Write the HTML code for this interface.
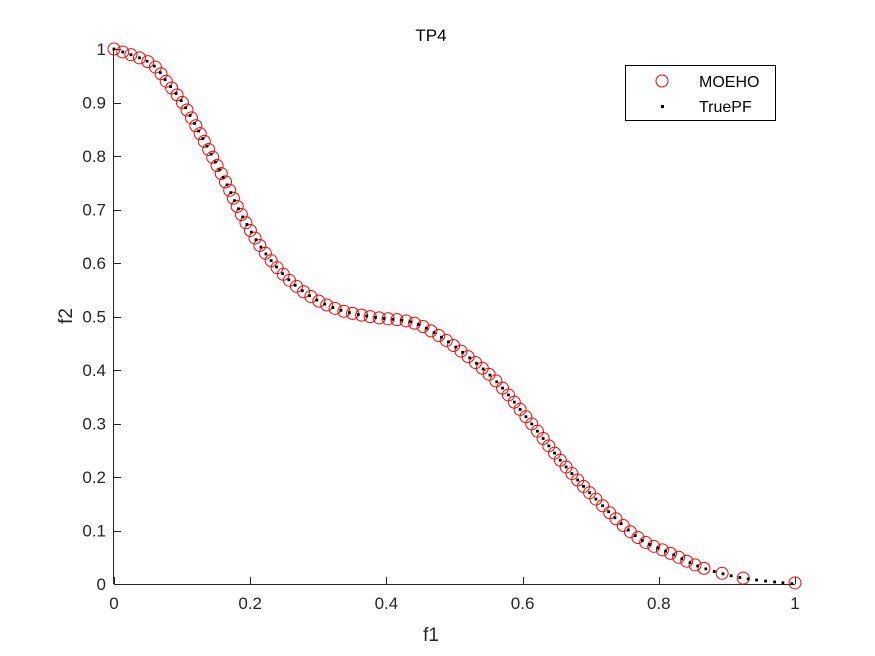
<!DOCTYPE html>
<html><head><meta charset="utf-8"><style>
html,body{margin:0;padding:0;background:#fff;}
svg{display:block;font-family:"Liberation Sans",sans-serif;}
</style></head><body>
<svg id="s" width="875" height="656" viewBox="0 0 875 656" xmlns="http://www.w3.org/2000/svg">
<rect width="875" height="656" fill="#fff"/>
<g id="ax" stroke="#262626" stroke-width="1" fill="none">
<line x1="114" y1="584.5" x2="795" y2="584.5"/>
<line x1="113.5" y1="49" x2="113.5" y2="584"/>
</g>
<g id="ticks" stroke="#262626" stroke-width="1"></g>
<g id="lbl" fill="#262626" font-size="17"></g>
<text x="431" y="41" text-anchor="middle" font-size="17" fill="#000">TP4</text>
<text x="431" y="641" text-anchor="middle" font-size="19" fill="#262626">f1</text>
<text transform="translate(72,316) rotate(-90)" text-anchor="middle" font-size="19" fill="#262626">f2</text>
<g id="pts"></g>
<rect x="625.5" y="65.5" width="150" height="55" fill="#fff" stroke="#000" stroke-width="1"/>
<circle cx="662" cy="81" r="6" fill="none" stroke="#f00" stroke-width="1"/>
<rect x="661" y="105" width="3" height="3" fill="#000"/>
<text x="699" y="87" font-size="16" fill="#000">MOEHO</text>
<text x="699" y="112" font-size="16" fill="#000">TruePF</text>
</svg>
<script>
var NS="http://www.w3.org/2000/svg";
function X(v){return 114+681*v;} function Y(v){return 584-535*v;}
var t=document.getElementById('ticks'),l=document.getElementById('lbl');
function el(p,n,a,tx){var e=document.createElementNS(NS,n);for(var k in a)e.setAttribute(k,a[k]);if(tx!==undefined)e.textContent=tx;p.appendChild(e);return e;}
for(var i=0;i<=5;i++){var v=i/5,x=X(v);x=Math.round(x)+0.5;
 el(t,'line',{x1:x,y1:584,x2:x,y2:577});
 el(l,'text',{x:X(v),y:609,'text-anchor':'middle'},i==0?'0':i==5?'1':String(v));}
for(var i=0;i<=10;i++){var v=i/10,y=Math.round(Y(v))+0.5;
 el(t,'line',{x1:114,y1:y,x2:121,y2:y});
 el(l,'text',{x:106,y:Y(v)+6,'text-anchor':'end'},i==0?'0':i==10?'1':v.toFixed(1));}
var d=[[0,1],[0.053,0.974],[0.079,0.936],[0.101,0.899],[0.126,0.843],[0.144,0.8],[0.166,0.746],[0.189,0.686],[0.219,0.624],[0.254,0.572],[0.292,0.535],[0.332,0.512],[0.38,0.499],[0.435,0.49],[0.471,0.469],[0.513,0.432],[0.562,0.378],[0.611,0.303],[0.659,0.226],[0.709,0.157],[0.768,0.088],[0.816,0.058],[0.865,0.03],[0.924,0.011],[1,0.0]];
var P=d.map(function(p){return [X(p[0]),Y(p[1])];});
var dense=[];
for(var i=0;i<P.length-1;i++){var p0=P[Math.max(0,i-1)],p1=P[i],p2=P[i+1],p3=P[Math.min(P.length-1,i+2)];
 for(var s=0;s<40;s++){var u=s/40,u2=u*u,u3=u2*u;
  var f=function(a,b,c,e){return 0.5*((2*b)+(-a+c)*u+(2*a-5*b+4*c-e)*u2+(-a+3*b-3*c+e)*u3);};
  dense.push([f(p0[0],p1[0],p2[0],p3[0]),f(p0[1],p1[1],p2[1],p3[1])]);}}
dense.push(P[P.length-1]);
function sample(step){var out=[dense[0]],acc=0;for(var i=1;i<dense.length;i++){var dx=dense[i][0]-dense[i-1][0],dy=dense[i][1]-dense[i-1][1];acc+=Math.sqrt(dx*dx+dy*dy);if(acc>=step){out.push(dense[i]);acc=0;}}return out;}
var g=document.getElementById('pts');
var circ=sample(8.6);
circ.forEach(function(p){if(p[0]<X(0.875))el(g,'circle',{cx:p[0],cy:p[1],r:6,fill:'none',stroke:'#f00','stroke-width':1});});
[[0.893,0.02],[0.924,0.011],[1,0.002]].forEach(function(q){el(g,'circle',{cx:X(q[0]),cy:Y(q[1]),r:6,fill:'none',stroke:'#f00','stroke-width':1});});
var dots=sample(8.3);
dots.forEach(function(p){el(g,'rect',{x:p[0]-1.4,y:p[1]-1.4,width:2.8,height:2.8,fill:'#000'});});
</script>
</body></html>
